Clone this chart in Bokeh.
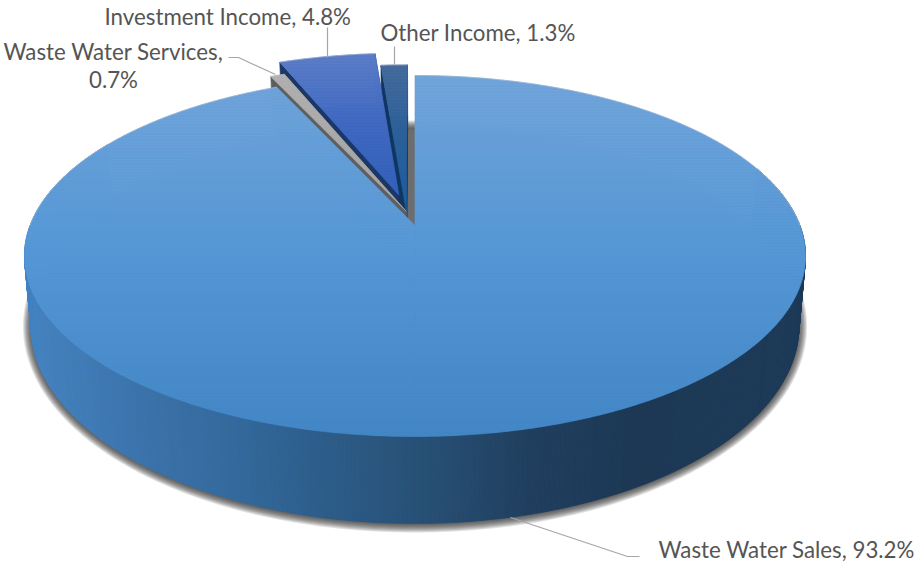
import math
from bokeh.core.properties import value
from bokeh.embed import file_html
from bokeh.models import Range1d
from bokeh.plotting import figure
from bokeh.resources import INLINE

# Revenue mix, clockwise from twelve o'clock
categories = ["Waste Water Sales", "Waste Water Services", "Investment Income", "Other Income"]
shares = [93.2, 0.7, 4.8, 1.3]

# Pulled-out distance of each slice, in units of the disc radius
explode = [(0.0, 0.0), (-0.023, 0.082), (-0.043, 0.178), (-0.023, 0.084)]

# Disc-to-page projection: a perspective view of the top face, and the base as a
# slightly narrower, taller ellipse lower down
CX, APEX_Y, TILT, A_X, A_Y = 414.5, 225.0, 0.169, 384.9, 137.3
TOP_YC, TOP_RX, TOP_RY = 255.5, 390.5, 180.5
BASE_YC, BASE_RX, BASE_RY = 325.0, 384.0, 198.0


def top(u, v):
    d = 1 + TILT * v
    return CX + A_X * u / d, (APEX_Y - A_Y * v) / d


def base(u, v):
    x, y = top(u, v)
    return CX + (x - CX) * BASE_RX / TOP_RX, BASE_YC + (y - TOP_YC) * BASE_RY / TOP_RY


def hex2rgb(c):
    return tuple(int(c[i:i + 2], 16) for i in (1, 3, 5))


def ramp(stops, t):
    if t <= stops[0][0]:
        return stops[0][1]
    for (a, ca), (b, cb) in zip(stops, stops[1:]):
        if t <= b:
            f = (t - a) / (b - a)
            ra, rb = hex2rgb(ca), hex2rgb(cb)
            return "#%02x%02x%02x" % tuple(round(x + (y - x) * f) for x, y in zip(ra, rb))
    return stops[-1][1]


def clip_band(poly, y0, y1):
    """Clip a convex polygon to the horizontal band y0..y1."""
    def clip(pts, keep, cross):
        out = []
        for i, p in enumerate(pts):
            q = pts[(i + 1) % len(pts)]
            if keep(p):
                out.append(p)
            if keep(p) != keep(q):
                t = (cross - p[1]) / (q[1] - p[1])
                out.append((p[0] + (q[0] - p[0]) * t, cross))
        return out
    pts = clip(poly, lambda p: p[1] >= y0, y0)
    return clip(pts, lambda p: p[1] <= y1, y1) if pts else pts


xs, ys, fills = [], [], []


def add(poly, color):
    xs.append([p[0] for p in poly])
    ys.append([p[1] for p in poly])
    fills.append(color)


def add_gradient(poly, stops, step=3.0):
    # Bands sit on a shared grid so neighbouring faces line up
    lo, hi = min(p[1] for p in poly), max(p[1] for p in poly)
    y = math.floor(lo / step) * step
    while y < hi:
        band = clip_band(poly, y, y + step)
        if len(band) >= 3:
            add(band, ramp(stops, y + step / 2))
        y += step


# Slice angles in degrees, clockwise from the top
edges = [0.0]
for s in shares:
    edges.append(edges[-1] + 360.0 * s / sum(shares))


def wedge(i, fn, a0=None, a1=None):
    a0 = edges[i] if a0 is None else a0
    a1 = edges[i + 1] if a1 is None else a1
    du, dv = explode[i]
    n = max(4, int(a1 - a0) * 2)
    pts = [fn(du, dv)]
    for k in range(n + 1):
        t = math.radians(a0 + (a1 - a0) * k / n)
        pts.append(fn(du + math.sin(t), dv + math.cos(t)))
    return pts


# Soft shadow beneath the whole pie, built from stacked translucent rings
shadow_xs, shadow_ys, shadow_alpha = [], [], []
for k in range(9):
    grow = 8.0 - k
    ring = [(CX + (BASE_RX + grow) * math.cos(math.radians(a)),
             BASE_YC + 1.0 + (BASE_RY + grow) * math.sin(math.radians(a))) for a in range(0, 360, 1)]
    shadow_xs.append([p[0] for p in ring])
    shadow_ys.append([p[1] for p in ring])
    shadow_alpha.append(0.14)

# Outer wall of the main slice, shaded from left to right
wall_stops = [(30, "#4483c2"), (150, "#3a72a9"), (230, "#336a9e"), (330, "#2c5c88"), (430, "#274f74"),
              (530, "#203f5f"), (630, "#1c3855"), (810, "#1c3a58")]
a = 70.0
while a < edges[1] and a < 300.0:
    t0, t1 = math.radians(a), math.radians(a + 0.5)
    u0, v0, u1, v1 = math.sin(t0), math.cos(t0), math.sin(t1), math.cos(t1)
    add([top(u0, v0), top(u1, v1), base(u1, v1), base(u0, v0)],
        ramp(wall_stops, (top(u0, v0)[0] + top(u1, v1)[0]) / 2))
    a += 0.5

# Back to front: the pulled-out slices, each with its shadow, wall and top face
slice_style = {
    3: ("#0f3561", [(64, "#42699b"), (130, "#2c6099"), (210, "#1d5d9f")]),
    2: ("#1a3768", [(53, "#5a7cc6"), (120, "#4069c1"), (195, "#3260b9")]),
    1: ("#5e5e5e", [(74, "#b0b0b0"), (212, "#a3a3a3")]),
}
rim_lines = []
for i in (3, 2, 1):
    wall, stops = slice_style[i]
    foot = wedge(i, base)
    add([(x + 8, y + 14) for x, y in foot], "#6d6d6d")
    roof = wedge(i, top)
    add(foot, wall)
    for j in (1, len(roof) - 1):
        add([roof[0], roof[j], foot[j], foot[0]], wall)
    add_gradient(roof, stops)
    rim_lines.append(roof[1:])

# Top face of the main slice, split at 180 degrees so each half is convex
main_stops = [(75, "#6fa3d9"), (250, "#5597d6"), (436, "#4286c6")]
add_gradient(wedge(0, top, 0.0, 180.0), main_stops)
add_gradient(wedge(0, top, 180.0, edges[1]), main_stops)
rim_lines.append(wedge(0, top, 0.0, 90.0)[1:])
rim_lines.append(wedge(0, top, 270.0, edges[1])[1:])

# Connector lines and label anchors
leader_lines = [
    [(510, 517), (627, 556), (639, 556)],
    [(228, 57), (238, 57), (275, 74)],
    [(327, 27), (327, 57)],
    [(394, 46), (394, 64)],
]
label_anchor = [(658, 549, "left"), (113, 65, "center"), (104, 16, "left"), (380, 32, "left")]
label_text = [f"{c}, {s}%" for c, s in zip(categories, shares)]
label_text[1] = label_text[1].replace(", ", ",\n")

p = figure(width=914, height=565, x_range=Range1d(0, 914), y_range=Range1d(565, 0),
           x_axis_type=None, y_axis_type=None, output_backend="svg", toolbar_location=None,
           min_border=0, outline_line_color=None, background_fill_color="white")

p.patches(shadow_xs, shadow_ys, fill_color="#303030", fill_alpha=shadow_alpha, line_color=None)
p.patches(xs, ys, fill_color=fills, line_color=fills, line_width=0.7)
p.multi_line([[q[0] for q in l] for l in rim_lines], [[q[1] for q in l] for l in rim_lines],
             line_color="#b4bfd0", line_width=0.8, line_alpha=0.7)
p.multi_line([[q[0] for q in l] for l in leader_lines], [[q[1] for q in l] for l in leader_lines],
             line_color="#a6a6a6", line_width=1.2)
for (x, y, align), label in zip(label_anchor, label_text):
    p.text([x], [y], text=[label], text_font=value("Lato"), text_font_size="22.3px",
           text_color="#555555", text_align=align, text_baseline="middle", text_line_height=1.06)

open("out.html", "w").write(file_html(p, INLINE))
